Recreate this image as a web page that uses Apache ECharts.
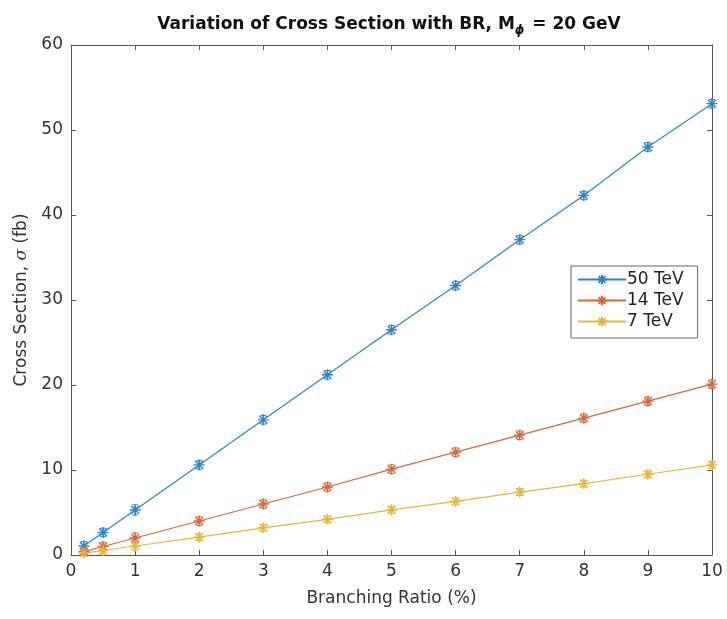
<!DOCTYPE html>
<html>
<head>
<meta charset="utf-8">
<script src="https://cdn.jsdelivr.net/npm/echarts@6/dist/echarts.min.js"></script>
<style>html,body{margin:0;padding:0;background:#fff}#c{width:727px;height:619px}</style>
</head>
<body>
<div id="c"></div>
<script>
var br = [0.2, 0.5, 1, 2, 3, 4, 5, 6, 7, 8, 9, 10];
var sigma50 = [1.06, 2.65, 5.3, 10.6, 15.9, 21.2, 26.5, 31.7, 37.1, 42.3, 48.0, 53.1];
var sigma14 = [0.4, 1.0, 2.0, 4.0, 6.0, 8.0, 10.1, 12.1, 14.1, 16.1, 18.1, 20.1];
var sigma7 = [0.21, 0.53, 1.06, 2.1, 3.2, 4.2, 5.3, 6.3, 7.4, 8.4, 9.5, 10.6];
var err50 = [0.5, 0.5, 0.6, 0.5, 0.5, 0.5, 0.5, 0.5, 0.5, 0.5, 0.5, 0.5];
var err14 = [0.4, 0.5, 0.6, 0.5, 0.5, 0.5, 0.5, 0.5, 0.5, 0.5, 0.5, 0.5];
var err7 = [0.3, 0.4, 0.5, 0.4, 0.4, 0.4, 0.4, 0.4, 0.4, 0.4, 0.4, 0.4];
var xTicks = [0, 1, 2, 3, 4, 5, 6, 7, 8, 9, 10];
var yTicks = [0, 10, 20, 30, 40, 50, 60];

var colors = ['#2a84c6', '#d9663a', '#e6b53c'];
var names = ['50 TeV', '14 TeV', '7 TeV'];
var vals = [sigma50, sigma14, sigma7];
var errs = [err50, err14, err7];
var star = 'path://M0,-10L0,10M-10,0L10,0M-7.07,-7.07L7.07,7.07M-7.07,7.07L7.07,-7.07';
var FF = 'DejaVu Sans, Verdana, sans-serif';

function pairs(v){ return br.map(function(x,i){ return [x, v[i]]; }); }
function errData(v,e){ return br.map(function(x,i){ return [x, v[i]-e[i], v[i]+e[i]]; }); }

var series = [];
names.forEach(function(n,k){
  series.push({
    type:'custom', name:n+'_err', silent:true, z:3,
    renderItem:function(params, api){
      var x = api.value(0);
      var lo = api.coord([x, api.value(1)]);
      var hi = api.coord([x, api.value(2)]);
      var c = colors[k], w = 3;
      return {type:'group', children:[
        {type:'line', shape:{x1:lo[0],y1:lo[1],x2:hi[0],y2:hi[1]}, style:{stroke:c,lineWidth:1}},
        {type:'line', shape:{x1:lo[0]-w,y1:lo[1],x2:lo[0]+w,y2:lo[1]}, style:{stroke:c,lineWidth:1}},
        {type:'line', shape:{x1:hi[0]-w,y1:hi[1],x2:hi[0]+w,y2:hi[1]}, style:{stroke:c,lineWidth:1}}
      ]};
    },
    encode:{x:0, y:[1,2]},
    data: errData(vals[k], errs[k])
  });
  series.push({
    type:'line', name:n, data:pairs(vals[k]), z:4,
    symbol:star, symbolSize:11, showSymbol:true,
    lineStyle:{color:colors[k], width:1.2},
    itemStyle:{color:colors[k], borderColor:colors[k], borderWidth:1.4},
    emphasis:{disabled:true}, animation:false
  });
});

var axisCol = '#555';
function ts(){ return {show:true, inside:true, length:5, lineStyle:{color:axisCol, width:1}}; }
var chart = echarts.init(document.getElementById('c'), null, {renderer:'canvas'});
chart.setOption({
  animation:false,
  backgroundColor:'#fff',
  title:{
    text:'Variation of Cross Section with BR, M{s|ϕ} = 20 GeV',
    left:384, top:8, textAlign:'center',
    textStyle:{fontFamily:FF, fontSize:17, fontWeight:'bold', color:'#111',
      rich:{s:{fontFamily:FF, fontSize:12, fontStyle:'italic', fontWeight:'bold', color:'#111', verticalAlign:'bottom', padding:[12,2,0,0], lineHeight:24}}}
  },
  legend:{
    data:names, orient:'vertical', left:571, top:266,
    itemWidth:48, itemHeight:12, itemGap:4,
    padding:[5,14,8,6],
    borderColor:'#666', borderWidth:1, backgroundColor:'#fff',
    textStyle:{fontFamily:FF, fontSize:17, color:'#222', padding:[0,0,0,-4]}
  },
  grid:{left:71, right:15, top:45, bottom:64, show:false},
  xAxis:[{
    type:'value', min:0, max:10, interval:1,
    name:'Branching Ratio (%)', nameLocation:'middle', nameGap:35,
    nameTextStyle:{fontFamily:FF, fontSize:17, color:'#333'},
    axisLine:{show:true, onZero:false, lineStyle:{color:axisCol}},
    axisTick:ts(),
    axisLabel:{fontFamily:FF, fontSize:17, color:'#333', margin:8,
      formatter:function(v){ return xTicks.indexOf(v)>=0 ? String(v) : ''; }},
    splitLine:{show:false}
  },{
    type:'value', min:0, max:10, interval:1, position:'top',
    axisLine:{show:true, onZero:false, lineStyle:{color:axisCol}},
    axisTick:ts(),
    axisLabel:{show:false}, splitLine:{show:false}
  }],
  yAxis:[{
    type:'value', min:0, max:60, interval:10, position:'left',
    name:'Cross Section, {i|σ} (fb)', nameLocation:'middle', nameGap:41,
    nameTextStyle:{fontFamily:FF, fontSize:17, color:'#333',
      rich:{i:{fontFamily:'DejaVu Serif, serif', fontStyle:'italic', fontSize:17, color:'#333'}}},
    axisLine:{show:true, onZero:false, lineStyle:{color:axisCol}},
    axisTick:ts(),
    axisLabel:{fontFamily:FF, fontSize:17, color:'#333', margin:8,
      formatter:function(v){ return yTicks.indexOf(v)>=0 ? String(v) : ''; }},
    splitLine:{show:false}
  },{
    type:'value', min:0, max:60, interval:10, position:'right',
    axisLine:{show:true, onZero:false, lineStyle:{color:axisCol}},
    axisTick:ts(),
    axisLabel:{show:false}, splitLine:{show:false}
  }],
  series:series
});
</script>
</body>
</html>
